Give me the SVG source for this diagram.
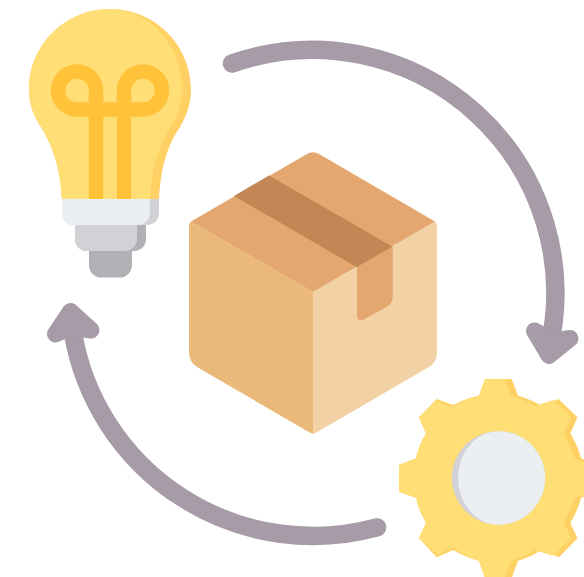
<svg xmlns="http://www.w3.org/2000/svg" width="584" height="577" viewBox="0 0 584 577">
<style>
.arrow{fill:none;stroke:#a79ba7;stroke-width:18.500;stroke-linecap:round;stroke-linejoin:round}
.head{fill:#a79ba7;stroke:#a79ba7;stroke-width:17;stroke-linecap:round;stroke-linejoin:round}
.fil{fill:none;stroke:#ffc239;stroke-width:14.500}
.yel{fill:#ffde76}.yels{fill:#ffd164}.lite{fill:#ebeff2}.gr1{fill:#d1d1d6}.gr2{fill:#b1b1b5}
</style>
<rect width="584" height="577" fill="#ffffff"/>
<g id="connectors">
<path class="arrow" d="M232 63.500A243 243 0 0 1 548 352"/>
<path class="head" d="M534.500 331L549 355.500L570 338.500L553 341Z"/>
<path class="arrow" d="M377 527.400A243.500 243.500 0 0 1 73 333"/>
<path class="head" d="M55.500 334L70.500 311.500L91 330L72 327Z"/>
</g>
<g id="bulb">
<path class="yels" d="M62 199C60 165 52 145 41 127C33 115 29 103 29 90C29 45 65 9 110 9C155 9 191 45 191 90C191 103 187 115 180 127C168 145 161 165 159 199Z"/>
<path class="yel" d="M62 199C60 165 52 145 41 127C33 115 29 103 29 90C29 45 65 9 110 9C150 9 182 45 182 90C182 103 178 115 171 127C158 147 152 167 150 199Z"/>
<path class="fil" d="M96 199V90.500A19 19 0 1 0 77 109.500H143A19 19 0 1 0 124 90.500V199"/>
<path class="gr2" d="M89 245H132V265A12.500 12.500 0 0 1 119.500 277.600H101.500A12.500 12.500 0 0 1 89 265Z"/>
<path class="gr2" d="M75 220H146V239A12 12 0 0 1 134 251H87A12 12 0 0 1 75 239Z"/>
<path class="gr1" d="M75 220H137V239A12 12 0 0 1 125 251H87A12 12 0 0 1 75 239Z"/>
<path class="gr1" d="M62 199H159V213A12 12 0 0 1 147 225H74A12 12 0 0 1 62 213Z"/>
<path class="lite" d="M62 199H150V213A12 12 0 0 1 138 225H74A12 12 0 0 1 62 213Z"/>
</g>
<g id="box">
<path fill="#eab878" d="M313 292L191 221.500Q189 223 189 227V352Q189 362 197 367L307 431Q313 434 313 434Z"/>
<path fill="#f2d1a5" d="M313 292L435 221.500Q437 223 437 227V352Q437 362 429 367L319 431Q313 434.500 313 434Z"/>
<path fill="#e3a76f" d="M307 154Q313 150.500 319 154L435 221.500L313 292L191 221.500Z"/>
<path fill="#c38755" d="M269 175.500L234 196L357 267.300L392.700 246.700Z"/>
<path fill="#e3a76f" d="M357 267.300L392.700 246.700V297Q392.700 303 387 306.500L363 320Q357 322 357 315Z"/>
</g>
<g id="gear">
<path class="yels" d="M485 379H511.700L518 395.700A85 85 0 0 1 541.700 406L558.300 399L577.500 417.300L570.300 433.500A85 85 0 0 1 581 458.300L598 465V491.700L581 497.700A85 85 0 0 1 570.300 522.700L577.500 538.300L559 557.300L541.700 550A85 85 0 0 1 518 560.700L511.700 578H485L479 560.700A85 85 0 0 1 453.300 550L436.700 557.300L419 538.300L426 522.700A85 85 0 0 1 416 497.700L399 491.700V465L416 458.300A85 85 0 0 1 426 433.300L419 417.300L436.700 399L453.300 405A85 85 0 0 1 479 395.700Z"/>
<path class="yel" d="M485 379H504.500L510.700 395.700A85 85 0 0 1 535 406L553 400L571.500 417.300L563.500 433.500A85 85 0 0 1 574.500 458.300L591 465V491.700L574.500 497.700A85 85 0 0 1 563.500 522.700L571 538.300L553 556L535 550A85 85 0 0 1 510.700 560.700L504.500 578H485L479 560.700A85 85 0 0 1 453.300 547.500L437.500 554.500L419 538.300L426 522.700A85 85 0 0 1 416 497.700L399 491.700V465L416 458.300A85 85 0 0 1 426 433.300L419 417.300L435.500 401L452 407A85 85 0 0 1 479 395.700Z"/>
<circle class="gr1" cx="498.500" cy="478" r="46.700"/>
<path class="lite" d="M498.500 431.300A46.700 46.700 0 0 1 498.500 524.700A40.500 46.700 0 0 1 498.500 431.300Z"/>
</g>
</svg>
